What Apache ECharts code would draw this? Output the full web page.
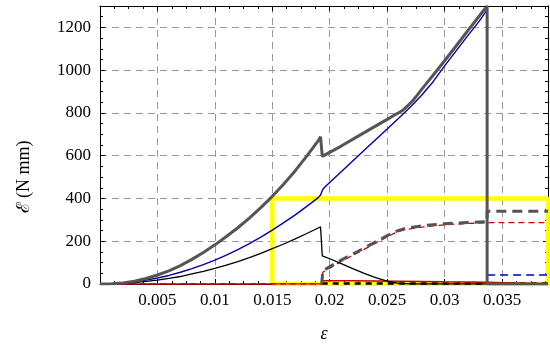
<!DOCTYPE html>
<html>
<head>
<meta charset="utf-8">
<script src="https://cdn.jsdelivr.net/npm/echarts@6/dist/echarts.min.js"></script>
<style>html,body{margin:0;padding:0;background:#fff}#c{width:550px;height:347px}</style>
</head>
<body>
<div id="c"></div>
<script>
// x tick labels and y tick labels
var xTicks = [0.005, 0.01, 0.015, 0.02, 0.025, 0.03, 0.035];
var yTicks = [0, 200, 400, 600, 800, 1000, 1200];

// series values as [strain, energy]
var yellowBox = [[0.015,0],[0.015,400],[0.039,400],[0.039,0],[0.015,0]];
var totalEnergy = [[0,0],[0.001,1],[0.002,5],[0.003,13],[0.004,26],[0.005,42],[0.006,61],[0.007,86],[0.008,115],[0.009,147],[0.01,183],[0.011,222],[0.012,263],[0.013,308],[0.014,357],[0.015,410],[0.016,468],[0.017,530],[0.018,598],[0.019,670],[0.0192,688],[0.01935,597],[0.021,645],[0.023,708],[0.025,770],[0.0255,786],[0.026,801],[0.0264,814],[0.0268,834],[0.0272,856],[0.0276,882],[0.028,910],[0.029,976],[0.03,1044],[0.031,1113],[0.032,1183],[0.033,1252],[0.0337,1300],[0.0337,0],[0.039,0]];
var elasticEnergy = [[0,0],[0.001,1],[0.002,4.5],[0.003,10],[0.004,18],[0.005,28],[0.006,40],[0.007,55],[0.008,72],[0.009,91],[0.01,112],[0.011,135],[0.012,161],[0.013,189],[0.014,219],[0.015,252],[0.016,287],[0.017,323],[0.018,363],[0.019,404],[0.0192,416],[0.0194,443],[0.0196,455],[0.021,525],[0.023,625],[0.025,725],[0.026,775],[0.027,827],[0.028,883],[0.029,946],[0.03,1020],[0.031,1090],[0.032,1160],[0.033,1228],[0.0337,1282]];
var blackEnergy = [[0,0],[0.001,1],[0.002,3],[0.003,6.5],[0.004,12],[0.005,18],[0.006,26],[0.007,35],[0.008,47],[0.009,59],[0.01,73],[0.011,88],[0.012,105],[0.013,123],[0.014,143],[0.015,165],[0.016,187],[0.017,211],[0.018,236],[0.019,262],[0.0192,267],[0.01935,132],[0.02,118],[0.021,95],[0.022,72],[0.023,50],[0.024,30],[0.025,14],[0.0255,7],[0.026,3],[0.027,0],[0.039,0]];
var redSolid = [[0,0],[0.0193,0],[0.0194,15],[0.022,15],[0.026,13],[0.03,10],[0.0337,8],[0.0337,0],[0.039,0]];
var grayDashed = [[0.0193,0],[0.0194,62],[0.021,112],[0.023,168],[0.025,226],[0.0255,240],[0.026,251],[0.0265,259],[0.027,264],[0.028,272],[0.029,277],[0.03,282],[0.031,285],[0.032,288],[0.033,290],[0.0337,291],[0.0337,340],[0.039,340]];
var redDashed = [[0,0],[0.0193,0],[0.0194,55],[0.021,106],[0.023,162],[0.025,220],[0.0255,234],[0.026,245],[0.0265,253],[0.027,258],[0.028,266],[0.029,272],[0.03,277],[0.031,280],[0.032,283],[0.033,285],[0.0337,287],[0.039,287]];
var blueDashed = [[0.0337,42],[0.039,42]];
var blackDashed = [[0.0193,2],[0.039,2]];

var FONT = 'Liberation Serif';
function fmtX(v){
  for (var i=0;i<xTicks.length;i++){ if (Math.abs(v-xTicks[i])<1e-9) return String(xTicks[i]); }
  return '';
}
function fmtY(v){
  for (var i=0;i<yTicks.length;i++){ if (Math.abs(v-yTicks[i])<1e-6) return String(yTicks[i]); }
  return '';
}
var split = {show:true, lineStyle:{color:'#999', type:[7,5], width:1}};
var frameLine = {show:true, onZero:false, lineStyle:{color:'#000', width:1}};
var tick = {show:true, inside:true, length:5, lineStyle:{color:'#000'}};
var minor = {show:true, splitNumber:4, length:3, lineStyle:{color:'#000'}};

function line(data, color, width, type, z){
  return {type:'line', data:data, showSymbol:false, symbol:'none', z:z,
    lineStyle:{color:color, width:width, type:type||'solid'}, silent:true};
}

var chart = echarts.init(document.getElementById('c'), null, {renderer:'canvas'});
chart.setOption({
  animation:false,
  backgroundColor:'#fff',
  grid:{left:100, right:2, top:6, bottom:63, containLabel:false},
  xAxis:[
    {type:'value', min:0, max:0.039, interval:0.005, position:'bottom',
     axisLine:frameLine, axisTick:tick, minorTick:minor, splitLine:split,
     axisLabel:{formatter:fmtX, color:'#000', fontFamily:FONT, fontSize:17, margin:8, showMaxLabel:false}},
    {type:'value', min:0, max:0.039, interval:0.005, position:'top',
     axisLine:frameLine, axisTick:tick, minorTick:minor, splitLine:{show:false}, axisLabel:{show:false}}
  ],
  yAxis:[
    {type:'value', min:0, max:1300, interval:200, position:'left',
     axisLine:frameLine, axisTick:tick, minorTick:minor, splitLine:split,
     axisLabel:{formatter:fmtY, color:'#000', fontFamily:FONT, fontSize:17, margin:9}},
    {type:'value', min:0, max:1300, interval:200, position:'right',
     axisLine:frameLine, axisTick:tick, minorTick:minor, splitLine:{show:false}, axisLabel:{show:false}}
  ],
  series:[
    line(yellowBox, '#ffff00', 4.5, 'solid', 2),
    line(blackDashed, '#000', 2.5, [6,5], 3),
    line(redSolid, '#cc0000', 1.5, 'solid', 3),
    line(redDashed, '#cc0000', 1.3, [6,4], 3),
    line(grayDashed, '#555555', 3, [10,6], 4),
    line(blueDashed, '#0000cc', 1.5, [8,5], 4),
    line(blackEnergy, '#000000', 1.3, 'solid', 5),
    line(elasticEnergy, '#0000aa', 1.4, 'solid', 5),
    line(totalEnergy, '#555555', 3, 'solid', 6)
  ],
  graphic:[
    {type:'text', x:24, y:177, rotation:Math.PI/2, style:{text:'ℰ (N mm)', font:'18px "Liberation Serif"', fill:'#000', align:'center', verticalAlign:'middle'}},
    {type:'text', x:324, y:334, style:{text:'ε', font:'italic 18px "Liberation Serif"', fill:'#000', align:'center', verticalAlign:'middle'}}
  ]
});
</script>
</body>
</html>
